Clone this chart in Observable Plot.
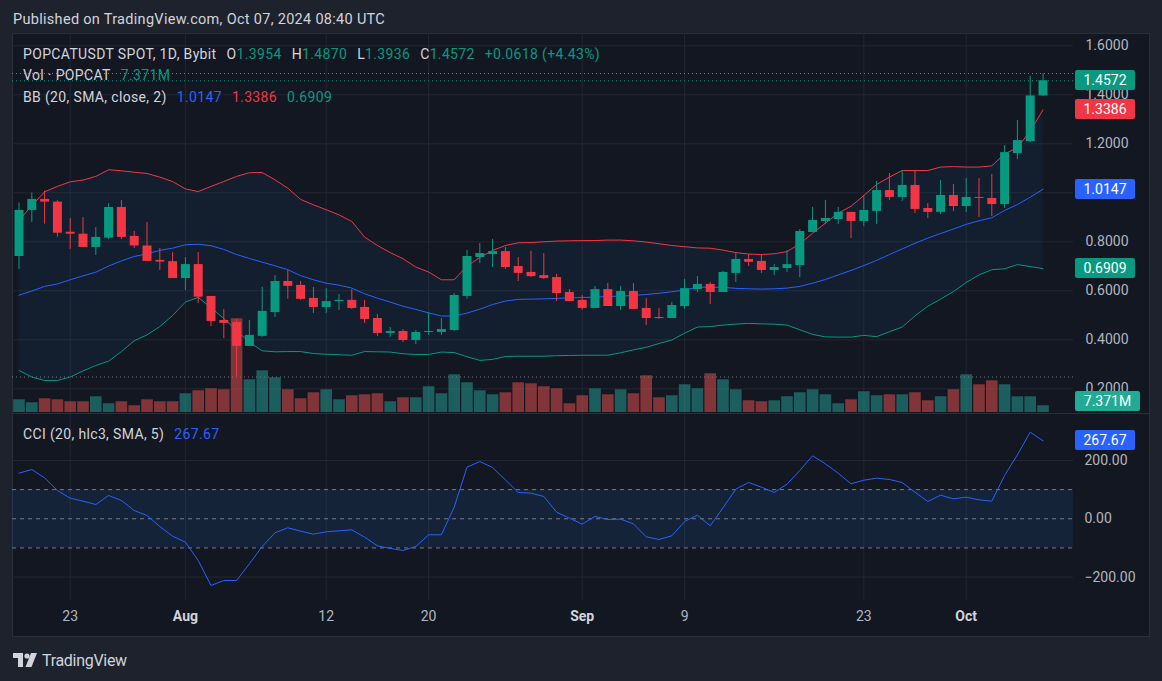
<!DOCTYPE html>
<html><head><meta charset="utf-8">
<script src="https://cdn.jsdelivr.net/npm/d3@7"></script>
<script src="https://cdn.jsdelivr.net/npm/@observablehq/plot@0.6"></script>
<style>
html,body{margin:0;padding:0;background:#1e222d;}
#root{position:relative;width:1162px;height:681px;background:#1e222d;overflow:hidden;font-family:Roboto,"Noto Sans",sans-serif;color:#d1d4dc;}
.abs{position:absolute;}
#frame{left:12px;top:33px;width:1138px;height:604px;background:#131722;border:1px solid #2a2e39;box-sizing:border-box;}
.leg{position:absolute;left:23px;font-size:14px;letter-spacing:0.35px;line-height:18px;white-space:nowrap;color:#d1d4dc;}
.leg span{margin-left:10px;}
.tag{position:absolute;left:1075px;width:60px;height:20px;line-height:20px;color:#fff;font-size:14px;text-align:center;border-radius:2px;}
</style></head>
<body>
<div id="root">
  <div class="abs" style="left:13px;top:10px;font-size:14.5px;letter-spacing:0.3px;line-height:20px;color:#d1d4dc;">Published on TradingView.com, Oct 07, 2024 08:40 UTC</div>
  <div id="frame" class="abs"></div>
</div>
<script>
// ---------- data ----------
const firstDay = "2024-07-19";
const open  = [0.740,0.928,0.973,0.962,0.839,0.831,0.777,0.815,0.940,0.822,0.783,0.724,0.719,0.650,0.707,0.577,0.479,0.471,0.373,0.414,
0.511,0.638,0.622,0.569,0.532,0.556,0.561,0.532,0.487,0.426,0.434,0.397,0.430,0.430,0.438,0.577,0.736,0.748,0.760,0.699,
0.675,0.662,0.654,0.593,0.561,0.528,0.605,0.536,0.597,0.528,0.491,0.487,0.536,0.605,0.626,0.593,0.671,0.728,0.720,0.683,
0.691,0.703,0.838,0.883,0.891,0.920,0.883,0.924,1.009,0.981,1.030,0.936,0.920,0.989,0.944,0.981,0.977,0.952,1.160,1.209,1.3954];
const high  = [0.958,0.999,1.007,0.968,0.895,0.899,0.858,0.956,0.969,0.842,0.879,0.773,0.756,0.736,0.756,0.577,0.524,0.483,0.479,0.614,
0.662,0.683,0.638,0.614,0.609,0.585,0.605,0.561,0.503,0.450,0.442,0.438,0.511,0.487,0.589,0.765,0.793,0.809,0.777,0.736,
0.761,0.752,0.667,0.605,0.581,0.618,0.630,0.618,0.630,0.569,0.528,0.552,0.646,0.658,0.634,0.679,0.756,0.748,0.748,0.707,
0.764,0.850,0.940,0.969,0.940,0.920,0.989,1.046,1.079,1.091,1.091,0.956,1.050,1.034,1.058,1.058,1.075,1.193,1.295,1.475,1.4870];
const low   = [0.687,0.879,0.872,0.819,0.769,0.777,0.744,0.809,0.809,0.773,0.720,0.683,0.650,0.601,0.548,0.454,0.405,0.248,0.373,0.410,
0.491,0.565,0.561,0.507,0.507,0.520,0.524,0.467,0.414,0.410,0.389,0.381,0.418,0.418,0.434,0.565,0.711,0.695,0.687,0.638,
0.654,0.646,0.556,0.556,0.520,0.528,0.536,0.520,0.524,0.458,0.483,0.487,0.524,0.593,0.544,0.593,0.634,0.699,0.671,0.662,
0.675,0.654,0.838,0.871,0.871,0.813,0.862,0.871,0.969,0.965,0.916,0.895,0.911,0.924,0.920,0.899,0.903,0.936,1.136,1.205,1.3936];
const close = [0.928,0.973,0.962,0.835,0.831,0.777,0.818,0.940,0.818,0.783,0.720,0.717,0.650,0.707,0.574,0.475,0.467,0.373,0.418,0.516,
0.638,0.618,0.565,0.532,0.556,0.561,0.528,0.483,0.426,0.434,0.397,0.430,0.434,0.442,0.581,0.740,0.752,0.760,0.695,0.671,
0.658,0.650,0.589,0.556,0.528,0.605,0.536,0.597,0.524,0.487,0.487,0.540,0.609,0.626,0.593,0.675,0.728,0.716,0.683,0.695,
0.707,0.842,0.887,0.895,0.920,0.883,0.928,1.009,0.981,1.030,0.932,0.920,0.989,0.944,0.981,0.977,0.952,1.164,1.213,1.3954,1.4572];
// volume, millions of POPCAT
const volume = [14.0,10.7,15.1,14.0,11.8,11.8,17.3,9.6,11.8,7.4,14.0,11.8,11.8,20.6,23.9,26.1,25.0,103.1,36.0,45.9,
38.2,25.0,15.1,21.7,25.0,14.0,18.4,19.5,20.6,11.8,16.2,16.2,28.3,20.6,41.5,32.7,23.9,19.5,21.7,32.7,
31.6,28.3,26.1,9.6,18.4,26.1,19.5,25.0,20.6,40.4,16.2,18.4,30.5,26.1,42.6,36.0,25.0,12.9,11.8,12.9,
17.3,21.7,25.0,19.5,9.6,14.0,22.8,18.4,19.5,19.5,21.7,12.9,17.3,25.0,41.5,30.5,34.9,30.5,17.3,17.3,7.371];
// Bollinger Bands (20, SMA, close, 2)
const bbUpper = [0.887,0.948,1.004,1.026,1.045,1.052,1.067,1.094,1.090,1.084,1.079,1.064,1.046,1.016,1.005,1.026,1.046,1.067,1.082,1.083,
1.053,1.019,0.973,0.951,0.931,0.910,0.883,0.819,0.785,0.756,0.731,0.697,0.677,0.645,0.645,0.701,0.736,0.765,0.785,0.796,
0.797,0.800,0.803,0.804,0.805,0.805,0.807,0.807,0.804,0.799,0.792,0.785,0.780,0.775,0.774,0.766,0.756,0.750,0.748,0.751,
0.760,0.792,0.835,0.876,0.917,0.945,0.989,1.034,1.064,1.091,1.091,1.091,1.105,1.107,1.105,1.105,1.110,1.159,1.184,1.252,1.3386];
const bbBasis = [0.582,0.599,0.618,0.628,0.645,0.661,0.676,0.701,0.722,0.740,0.751,0.765,0.774,0.788,0.790,0.784,0.769,0.748,0.732,0.717,
0.702,0.686,0.662,0.645,0.631,0.623,0.611,0.588,0.570,0.554,0.537,0.524,0.510,0.497,0.497,0.509,0.525,0.544,0.558,0.565,
0.566,0.567,0.569,0.571,0.573,0.574,0.577,0.578,0.581,0.585,0.590,0.596,0.604,0.614,0.615,0.614,0.610,0.608,0.607,0.608,
0.611,0.618,0.631,0.646,0.665,0.683,0.703,0.724,0.748,0.771,0.794,0.815,0.834,0.852,0.871,0.886,0.898,0.928,0.952,0.982,1.0147];
const bbLower = [0.275,0.248,0.234,0.234,0.248,0.273,0.295,0.313,0.352,0.396,0.420,0.454,0.499,0.554,0.573,0.531,0.487,0.438,0.390,0.355,
0.351,0.352,0.352,0.344,0.341,0.339,0.337,0.352,0.351,0.350,0.343,0.340,0.340,0.350,0.348,0.331,0.316,0.320,0.332,0.333,
0.333,0.333,0.335,0.336,0.337,0.337,0.337,0.347,0.359,0.369,0.385,0.399,0.427,0.452,0.454,0.460,0.464,0.467,0.465,0.464,
0.460,0.441,0.422,0.412,0.411,0.411,0.418,0.413,0.433,0.452,0.498,0.537,0.566,0.597,0.634,0.665,0.686,0.690,0.707,0.699,0.6909];
// CCI (20, hlc3)
const cci = [156.5,169,140.5,97,70.8,60.5,49,80,62.8,28.5,11.3,-26.4,-59.6,-80,-143,-228.8,-211.6,-211.6,-154.4,-95,
-48,-30.9,-42.4,-52.7,-44.7,-41.3,-37.9,-63,-92.7,-101.8,-108.7,-95,-54.9,-54.9,39.9,177,196.5,176,133.7,90.3,
88,76.5,22.8,2.2,-18.4,7.9,-2.4,-1.3,-17.3,-61.9,-71,-58.5,-9.3,12.5,-24,37.8,101.6,124.5,108.5,90.3,
118.8,165.8,216,188.7,156.5,120,132.5,139.4,134.8,124.5,91.4,59.4,81,68.5,74.2,65,60.5,148.6,219.5,297,267.67];
const tickDates  = ["2024-07-23","2024-08-01","2024-08-12","2024-08-20","2024-09-01","2024-09-09","2024-09-23","2024-10-01"];
const tickLabels = ["23","Aug","12","20","Sep","9","23","Oct"];
const tickIsMonth = [false,true,false,false,true,false,false,true];
const priceTicks = [0.2,0.4,0.6,0.8,1.0,1.2,1.4,1.6];
// 1.0000 is hidden behind the 1.0147 tag in the reference
const priceLabelTicks = [0.2,0.4,0.6,0.8,1.2,1.4,1.6];
const cciTicks = [200,0,-200];
const cciBands = [100,0,-100];
const visHigh = 1.4870, visLow = 0.248;

// ---------- build tables ----------
const start = new Date(firstDay + "T00:00:00Z");
const dates = open.map((_, i) => d3.utcDay.offset(start, i));
const rows = dates.map((date, i) => ({date, open: open[i], high: high[i], low: low[i], close: close[i],
  volume: volume[i], upper: bbUpper[i], basis: bbBasis[i], lower: bbLower[i], cci: cci[i], up: close[i] >= open[i]}));
const upRows = rows.filter(d => d.up), downRows = rows.filter(d => !d.up);
const ticks = tickDates.map((s, i) => ({date: new Date(s + "T00:00:00Z"), label: tickLabels[i], month: tickIsMonth[i]}));
const last = rows[rows.length - 1];

// ---------- layout ----------
const UP = "#089981", DOWN = "#f23645", BLUE = "#2962ff", GRID = "#232733", AXIS = "#b2b5be";
const W = 1137, plotW = 1061, pxPerDay = 12.8;
const xStart = new Date(start.getTime() - (6.5 / pxPerDay) * 864e5);
const xEnd = new Date(xStart.getTime() + (plotW / pxPerDay) * 864e5);
const xOpt = {type: "utc", domain: [xStart, xEnd], axis: null};
const baseStyle = {background: "transparent", overflow: "visible", fontFamily: "Roboto, 'Noto Sans', sans-serif", fontSize: "14px", color: AXIS};
const root = document.getElementById("root");
function place(el, left, top) {
  const w = document.createElement("div");
  w.className = "abs"; w.style.left = left + "px"; w.style.top = top + "px";
  w.appendChild(el); root.appendChild(w); return el;
}
const priceTop = 33, priceH = 380;
const priceY = {domain: [0.0992, 1.6502], axis: null};
const common = {width: W, marginLeft: 0, marginRight: W - plotW, marginTop: 0, marginBottom: 0, style: baseStyle};

// layer 1: grid + BB fill
place(Plot.plot({...common, height: priceH, x: xOpt, y: priceY, marks: [
  Plot.gridY(priceTicks, {stroke: GRID, strokeOpacity: 1}),
  Plot.gridX(ticks.map(d => d.date), {stroke: GRID, strokeOpacity: 1}),
  Plot.areaY(rows, {x: "date", y1: "lower", y2: "upper", fill: "#2196f3", fillOpacity: 0.06})
]}), 12, priceTop);

// layer 2: volume
const volH = 379;
place(Plot.plot({...common, height: volH, x: xOpt, y: {domain: [0, volH * 1.1], axis: null}, marks: [
  Plot.ruleX(upRows, {x: "date", y1: 0, y2: "volume", stroke: "#26a69a", strokeOpacity: 0.5, strokeWidth: 11.6}),
  Plot.ruleX(downRows, {x: "date", y1: 0, y2: "volume", stroke: "#ef5350", strokeOpacity: 0.5, strokeWidth: 11.6})
]}), 12, priceTop);

// layer 3: candles, bands, axis
const pricePlot = place(Plot.plot({...common, height: priceH, x: xOpt, y: priceY, marks: [
  Plot.ruleY([visHigh, visLow], {stroke: "#787b86", strokeDasharray: "1,3"}),
  Plot.ruleY([last.close], {stroke: UP, strokeDasharray: "1,3"}),
  Plot.lineY(rows, {x: "date", y: "upper", stroke: DOWN, strokeWidth: 1}),
  Plot.lineY(rows, {x: "date", y: "basis", stroke: BLUE, strokeWidth: 1}),
  Plot.lineY(rows, {x: "date", y: "lower", stroke: UP, strokeWidth: 1}),
  Plot.ruleX(upRows, {x: "date", y1: "low", y2: "high", stroke: UP, strokeWidth: 1}),
  Plot.ruleX(downRows, {x: "date", y1: "low", y2: "high", stroke: DOWN, strokeWidth: 1}),
  Plot.ruleX(upRows, {x: "date", y1: "open", y2: "close", stroke: UP, strokeWidth: 9}),
  Plot.ruleX(downRows, {x: "date", y1: "open", y2: "close", stroke: DOWN, strokeWidth: 9}),
  Plot.axisY(priceLabelTicks, {anchor: "right", tickSize: 0, tickPadding: 12, tickFormat: d3.format(".4f"), label: null, fill: AXIS})
]}), 12, priceTop);

// CCI pane
const cciTop = 414, cciH = 222;
const cciPlot = place(Plot.plot({...common, height: cciH, marginBottom: 36, x: xOpt, y: {domain: [-280.3, 357.8], axis: null}, marks: [
  Plot.gridY([200, -200], {stroke: GRID, strokeOpacity: 1}),
  Plot.gridX(ticks.map(d => d.date), {stroke: GRID, strokeOpacity: 1}),
  Plot.rect([cciBands], {y1: d => d[2], y2: d => d[0], fill: "#2196f3", fillOpacity: 0.1}),
  Plot.ruleY(cciBands, {stroke: "#787b86", strokeDasharray: "4,4", strokeWidth: 1}),
  Plot.lineY(rows, {x: "date", y: "cci", stroke: BLUE, strokeWidth: 1}),
  Plot.axisY(cciTicks, {anchor: "right", tickSize: 0, tickPadding: 11, tickFormat: d3.format(".2f"), label: null, fill: AXIS}),
  Plot.text(ticks.filter(d => d.month), {x: "date", text: "label", frameAnchor: "bottom", dy: 20, fill: "#d1d4dc", fontWeight: "bold", fontSize: 14}),
  Plot.text(ticks.filter(d => !d.month), {x: "date", text: "label", frameAnchor: "bottom", dy: 20, fill: AXIS, fontSize: 14})
]}), 12, cciTop);

// pane separator
const sep = document.createElement("div");
sep.className = "abs"; Object.assign(sep.style, {left: "13px", top: "413px", width: "1136px", height: "1px", background: "#2a2e39"});
root.appendChild(sep);

// ---------- legends ----------
const fmt4 = d3.format(".4f");
function legend(top, html) { const d = document.createElement("div"); d.className = "leg"; d.style.top = top + "px"; d.innerHTML = html; root.appendChild(d); }
const chg = last.close - rows[rows.length - 2].close;
legend(45, `POPCATUSDT SPOT, 1D, Bybit<span>O<b style="font-weight:400;color:${UP}">${fmt4(last.open)}</b></span><span>H<b style="font-weight:400;color:${UP}">${fmt4(last.high)}</b></span><span>L<b style="font-weight:400;color:${UP}">${fmt4(last.low)}</b></span><span>C<b style="font-weight:400;color:${UP}">${fmt4(last.close)}</b></span><span style="color:${UP}">+${fmt4(chg)} (+${(chg / rows[rows.length - 2].close * 100).toFixed(2)}%)</span>`);
legend(66, `Vol · POPCAT<span style="color:${UP}">${last.volume.toFixed(3)}M</span>`);
legend(88, `BB (20, SMA, close, 2)<span style="color:${BLUE}">${fmt4(last.basis)}</span><span style="color:${DOWN}">${fmt4(last.upper)}</span><span style="color:${UP}">${fmt4(last.lower)}</span>`);
legend(425, `CCI (20, hlc3, SMA, 5)<span style="color:${BLUE}">${last.cci.toFixed(2)}</span>`);

// ---------- price tags on the axis ----------
function tag(y, color, text, w) {
  const d = document.createElement("div"); d.className = "tag";
  d.style.top = (y - 10) + "px"; d.style.background = color; if (w) d.style.width = w + "px";
  d.textContent = text; root.appendChild(d);
}
const ys = pricePlot.scale("y"), yc = cciPlot.scale("y");
tag(priceTop + ys.apply(last.close), UP, fmt4(last.close));
tag(priceTop + ys.apply(last.upper), DOWN, fmt4(last.upper));
tag(priceTop + ys.apply(last.basis), BLUE, fmt4(last.basis));
tag(priceTop + ys.apply(last.lower), UP, fmt4(last.lower));
tag(Math.min(priceTop + volH - last.volume / 1.1, 401), "#22ab94", last.volume.toFixed(3) + "M", 65);
tag(cciTop + yc.apply(last.cci), BLUE, last.cci.toFixed(2));

// ---------- footer logo ----------
const logo = document.createElement("div");
logo.className = "abs";
Object.assign(logo.style, {left: "13px", top: "650px", height: "20px", display: "flex", alignItems: "center", gap: "5px", fontSize: "16px", color: "#d1d4dc"});
logo.innerHTML = `<svg width="24" height="14" viewBox="0 0 24 14"><path d="M0 0h10v14H5V5H0z" fill="#d1d4dc"/><circle cx="14" cy="3" r="2.6" fill="#d1d4dc"/><path d="M18 0h6l-5.5 14h-6z" fill="#d1d4dc"/></svg><span style="letter-spacing:-0.3px">TradingView</span>`;
root.appendChild(logo);
</script>
</body></html>
